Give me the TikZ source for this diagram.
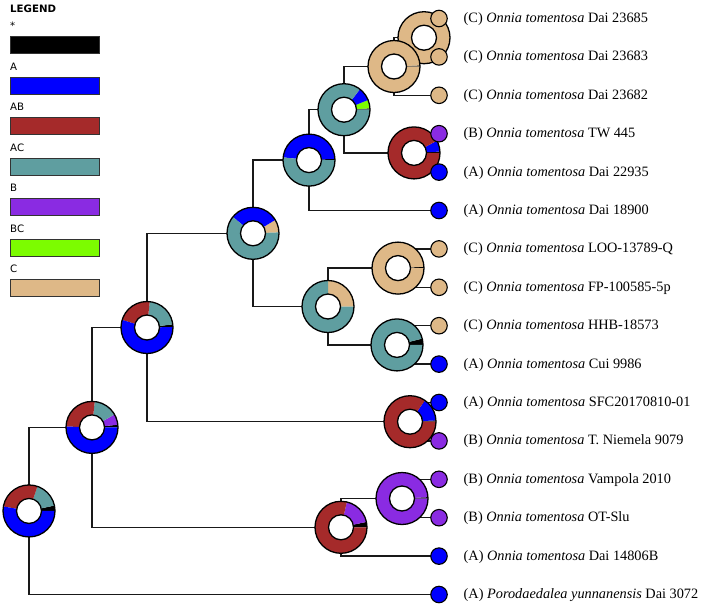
\documentclass[tikz,border=0pt]{standalone}
\usepackage{fontspec}
\setmainfont{Liberation Serif}
\newfontfamily\legfont{DejaVu Sans}
\usetikzlibrary{calc}
\definecolor{cS}{RGB}{0,0,0}
\definecolor{cA}{RGB}{0,0,255}
\definecolor{cAB}{RGB}{165,42,42}
\definecolor{cAC}{RGB}{95,158,160}
\definecolor{cB}{RGB}{138,43,226}
\definecolor{cBC}{RGB}{124,252,0}
\definecolor{cC}{RGB}{222,184,135}
\tikzset{
  edge/.style={draw=black!90, line width=1.4pt},
  donutline/.style={draw=black, line width=1.3pt},
  leaf/.style={circle, draw=black, line width=1.1pt, minimum size=16.5pt, inner sep=0pt},
  tiplabel/.style={anchor=base west, inner sep=0pt, font=\fontsize{14.3}{16}\selectfont},
  legtitle/.style={anchor=base west, inner sep=0pt, font=\legfont\bfseries\fontsize{10.2}{12}\selectfont},
  leglabel/.style={anchor=base west, inner sep=0pt, font=\legfont\fontsize{10.2}{12}\selectfont},
  legbox/.style={draw=black!80, line width=1pt, minimum width=89.3pt, minimum height=17pt, inner sep=0pt, anchor=north west}
}
\newcommand\donut[2]{%
  \foreach \a/\b/\c in {#2} {
    \fill[\c] ($(#1)+(\a:26pt)$) arc[start angle=\a, end angle=\b, radius=26pt]
      -- ($(#1)+(\b:12.5pt)$) arc[start angle=\b, end angle=\a, radius=12.5pt] -- cycle;
  }
  \draw[donutline] (#1) circle[radius=26pt];
  \draw[donutline, fill=white] (#1) circle[radius=12.5pt];
}
\begin{document}
\begin{tikzpicture}[x=1pt, y=-1pt]
\useasboundingbox (0,0) rectangle (702,606);

% legend
\node[legtitle] (lt) at (10,12) {LEGEND};
\node[leglabel] (lg1) at (10,29.7) {*};
\node[legbox, fill=cS] (lb1) at (10,36) {};
\node[leglabel] (lg2) at (10,70.2) {A};
\node[legbox, fill=cA] (lb2) at (10,76.7) {};
\node[leglabel] (lg3) at (10,110.7) {AB};
\node[legbox, fill=cAB] (lb3) at (10,117.2) {};
\node[leglabel] (lg4) at (10,151.2) {AC};
\node[legbox, fill=cAC] (lb4) at (10,157.7) {};
\node[leglabel] (lg5) at (10,191.7) {B};
\node[legbox, fill=cB] (lb5) at (10,198.2) {};
\node[leglabel] (lg6) at (10,232.2) {BC};
\node[legbox, fill=cBC] (lb6) at (10,238.7) {};
\node[leglabel] (lg7) at (10,272.7) {C};
\node[legbox, fill=cC] (lb7) at (10,279.2) {};

% internal node positions
\coordinate (root) at (29,510.95);
\coordinate (n2) at (92,427.4);
\coordinate (n3) at (147,327.5);
\coordinate (n4) at (253,233.3);
\coordinate (n5) at (309,160.1);
\coordinate (n6) at (344,109.7);
\coordinate (n7) at (414,152.9);
\coordinate (n8) at (394,66.5);
\coordinate (n9) at (424,37.7);
\coordinate (n10) at (328,306.5);
\coordinate (nloo) at (398,268.1);
\coordinate (nhhb) at (397,344.9);
\coordinate (nsfc) at (410,421.7);
\coordinate (n14) at (341,527.3);
\coordinate (nvam) at (402,498.5);

% leaf positions
\coordinate (p0) at (439,18.5);
\coordinate (p1) at (439,56.9);
\coordinate (p2) at (439,95.3);
\coordinate (p3) at (439,133.7);
\coordinate (p4) at (439,172.1);
\coordinate (p5) at (439,210.5);
\coordinate (p6) at (439,248.9);
\coordinate (p7) at (439,287.3);
\coordinate (p8) at (439,325.7);
\coordinate (p9) at (439,364.1);
\coordinate (p10) at (439,402.5);
\coordinate (p11) at (439,440.9);
\coordinate (p12) at (439,479.3);
\coordinate (p13) at (439,517.7);
\coordinate (p14) at (439,556.1);
\coordinate (p15) at (439,594.5);

% connectors
\draw[edge] (root) |- (n2);
\draw[edge] (root) |- (p15);
\draw[edge] (n2) |- (n3);
\draw[edge] (n2) |- (n14);
\draw[edge] (n14) |- (nvam);
\draw[edge] (n14) |- (p14);
\draw[edge] (nvam) |- (p12);
\draw[edge] (nvam) |- (p13);
\draw[edge] (n3) |- (n4);
\draw[edge] (n3) |- (nsfc);
\draw[edge] (nsfc) |- (p10);
\draw[edge] (nsfc) |- (p11);
\draw[edge] (n4) |- (n5);
\draw[edge] (n4) |- (n10);
\draw[edge] (n10) |- (nloo);
\draw[edge] (n10) |- (nhhb);
\draw[edge] (nloo) |- (p6);
\draw[edge] (nloo) |- (p7);
\draw[edge] (nhhb) |- (p8);
\draw[edge] (nhhb) |- (p9);
\draw[edge] (n5) |- (n6);
\draw[edge] (n5) |- (p5);
\draw[edge] (n6) |- (n8);
\draw[edge] (n6) |- (n7);
\draw[edge] (n7) |- (p3);
\draw[edge] (n7) |- (p4);
\draw[edge] (n8) |- (n9);
\draw[edge] (n8) |- (p2);
\draw[edge] (n9) |- (p0);
\draw[edge] (n9) |- (p1);

% donuts (children before parents)
\donut{n9}{0/360/cC}
\donut{n8}{0/2.5/cS, 2.5/360/cC}
\donut{n7}{0/3/cS, 3/28/cA, 28/360/cAB}
\donut{n6}{0/3/cS, 3/22/cBC, 22/52/cA, 52/360/cAC}
\donut{n5}{0/3/cS, 3/174/cA, 174/360/cAC}
\donut{nloo}{0/3/cS, 3/360/cC}
\donut{nhhb}{0/14/cS, 14/360/cAC}
\donut{n10}{0/90/cC, 90/360/cAC}
\donut{n4}{2/31/cC, 31/141/cA, 141/362/cAC}
\donut{nsfc}{0/3/cS, 3/55/cA, 55/360/cAB}
\donut{n3}{1/7/cS, 7/84/cAC, 84/163/cAB, 163/361/cA}
\donut{nvam}{0/3/cS, 3/360/cB}
\donut{n14}{0/12/cS, 12/77/cB, 77/360/cAB}
\donut{n2}{0/6/cS, 6/30/cB, 30/84/cAC, 84/178/cAB, 178/360/cA}
\donut{root}{0/12/cS, 12/71/cAC, 71/170/cAB, 170/360/cA}

% leaves
\node[leaf, fill=cC] (l0) at (p0) {};
\node[leaf, fill=cC] (l1) at (p1) {};
\node[leaf, fill=cC] (l2) at (p2) {};
\node[leaf, fill=cB] (l3) at (p3) {};
\node[leaf, fill=cA] (l4) at (p4) {};
\node[leaf, fill=cA] (l5) at (p5) {};
\node[leaf, fill=cC] (l6) at (p6) {};
\node[leaf, fill=cC] (l7) at (p7) {};
\node[leaf, fill=cC] (l8) at (p8) {};
\node[leaf, fill=cA] (l9) at (p9) {};
\node[leaf, fill=cA] (l10) at (p10) {};
\node[leaf, fill=cB] (l11) at (p11) {};
\node[leaf, fill=cB] (l12) at (p12) {};
\node[leaf, fill=cB] (l13) at (p13) {};
\node[leaf, fill=cA] (l14) at (p14) {};
\node[leaf, fill=cA] (l15) at (p15) {};

% tip labels
\node[tiplabel] (t0) at (463.5,22.5) {(C) \textit{Onnia tomentosa} Dai 23685};
\node[tiplabel] (t1) at (463.5,60.9) {(C) \textit{Onnia tomentosa} Dai 23683};
\node[tiplabel] (t2) at (463.5,99.3) {(C) \textit{Onnia tomentosa} Dai 23682};
\node[tiplabel] (t3) at (463.5,137.7) {(B) \textit{Onnia tomentosa} TW 445};
\node[tiplabel] (t4) at (463.5,176.1) {(A) \textit{Onnia tomentosa} Dai 22935};
\node[tiplabel] (t5) at (463.5,214.5) {(A) \textit{Onnia tomentosa} Dai 18900};
\node[tiplabel] (t6) at (463.5,252.9) {(C) \textit{Onnia tomentosa} LOO-13789-Q};
\node[tiplabel] (t7) at (463.5,291.3) {(C) \textit{Onnia tomentosa} FP-100585-5p};
\node[tiplabel] (t8) at (463.5,329.7) {(C) \textit{Onnia tomentosa} HHB-18573};
\node[tiplabel] (t9) at (463.5,368.1) {(A) \textit{Onnia tomentosa} Cui 9986};
\node[tiplabel] (t10) at (463.5,406.5) {(A) \textit{Onnia tomentosa} SFC20170810-01};
\node[tiplabel] (t11) at (463.5,444.9) {(B) \textit{Onnia tomentosa} T. Niemela 9079};
\node[tiplabel] (t12) at (463.5,483.3) {(B) \textit{Onnia tomentosa} Vampola 2010};
\node[tiplabel] (t13) at (463.5,521.7) {(B) \textit{Onnia tomentosa} OT-Slu};
\node[tiplabel] (t14) at (463.5,560.1) {(A) \textit{Onnia tomentosa} Dai 14806B};
\node[tiplabel] (t15) at (463.5,598.5) {(A) \textit{Porodaedalea yunnanensis} Dai 3072};
\end{tikzpicture}
\end{document}
